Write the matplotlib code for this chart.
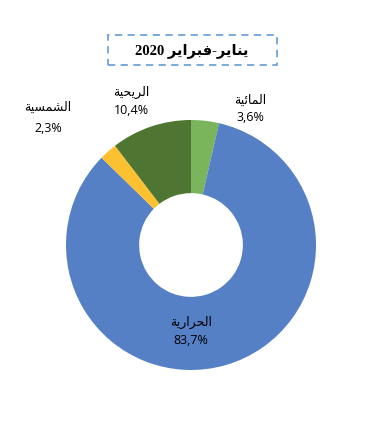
import matplotlib
matplotlib.use("Agg")
from matplotlib import pyplot as plt
from matplotlib.patches import Rectangle

# data (clockwise from 12 o'clock)
labels = ["المائية", "الحرارية", "الشمسية", "الريحية"]
values = [3.6, 83.7, 2.3, 10.4]
pct_labels = ["3,6%", "83,7%", "2,3%", "10,4%"]
colors = ["#7AB55C", "#5580C6", "#FCC131", "#4F7533"]
title_words = ["يناير", "فبراير"]
title_year = "2020"

# minimal arabic shaping (presentation forms B), matplotlib does no shaping
FORMS = {
    "ا": ("\uFE8D", "\uFE8E", None, None),
    "ر": ("\uFEAD", "\uFEAE", None, None),
    "ة": ("\uFE93", "\uFE94", None, None),
    "ل": ("\uFEDD", "\uFEDE", "\uFEDF", "\uFEE0"),
    "م": ("\uFEE1", "\uFEE2", "\uFEE3", "\uFEE4"),
    "ئ": ("\uFE89", "\uFE8A", "\uFE8B", "\uFE8C"),
    "ي": ("\uFEF1", "\uFEF2", "\uFEF3", "\uFEF4"),
    "ح": ("\uFEA1", "\uFEA2", "\uFEA3", "\uFEA4"),
    "ش": ("\uFEB5", "\uFEB6", "\uFEB7", "\uFEB8"),
    "س": ("\uFEB1", "\uFEB2", "\uFEB3", "\uFEB4"),
    "ن": ("\uFEE5", "\uFEE6", "\uFEE7", "\uFEE8"),
    "ف": ("\uFED1", "\uFED2", "\uFED3", "\uFED4"),
    "ب": ("\uFE8F", "\uFE90", "\uFE91", "\uFE92"),
}


def shape(word):
    out = []
    for i, ch in enumerate(word):
        f = FORMS[ch]
        prev_joins = i > 0 and FORMS[word[i - 1]][2] is not None
        next_ok = i < len(word) - 1 and f[2] is not None
        if prev_joins and next_ok:
            out.append(f[3])
        elif prev_joins:
            out.append(f[1])
        elif next_ok:
            out.append(f[2])
        else:
            out.append(f[0])
    return "".join(out)[::-1]


H = 428
fig = plt.figure(figsize=(3.9, 4.28), dpi=100)
ax = fig.add_axes([0, 0, 1, 1])

ax.pie(values, colors=colors, startangle=90, counterclock=False,
       center=(191, H - 245), radius=125,
       wedgeprops=dict(width=125 * 0.585, linewidth=0))
ax.set_xlim(0, 390)
ax.set_ylim(0, H)
ax.set_aspect("auto")
ax.axis("off")

# title box
ax.add_patch(Rectangle((108, H - 65), 169, 30, fill=False, edgecolor="#6FA3D8",
                       linewidth=1.3, linestyle=(0, (4, 3))))
title = title_year + " " + shape(title_words[1]) + "-" + shape(title_words[0])
ax.text(192, H - 51, title, ha="center", va="center", fontsize=10.5, fontweight="bold",
        family=["Liberation Serif", "DejaVu Sans"])

arab = ["DejaVu Sans"]
pos = [(250, 100, 117), (191, 322, 340), (48, 107, 128), (131, 92, 110)]
for lab, pct, (x, y1, y2) in zip(labels, pct_labels, pos):
    ax.text(x, H - y1, shape(lab), ha="center", va="center", fontsize=9, family=arab)
    ax.text(x, H - y2, pct, ha="center", va="center", fontsize=9, family=["Open Sans"])

fig.savefig("out.png", dpi=100)
